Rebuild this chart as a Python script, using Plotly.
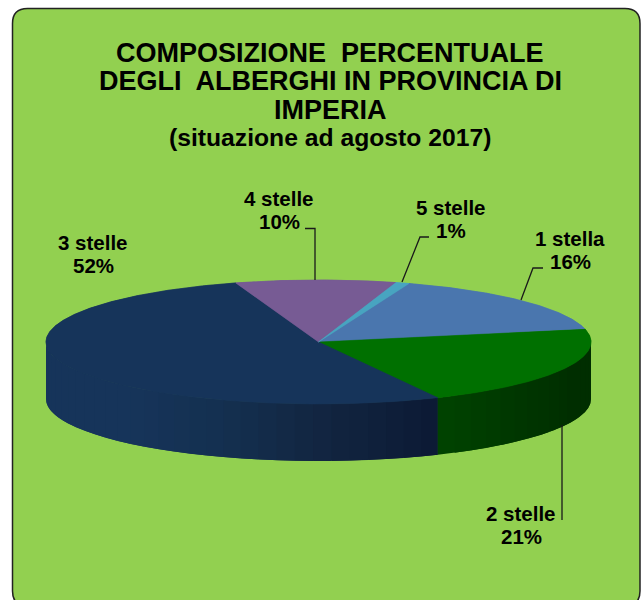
import numpy as np
import plotly.graph_objects as go

categories = ["1 stella", "2 stelle", "3 stelle", "4 stelle", "5 stelle"]
values = [16.2, 21.2, 52.3, 9.5, 0.8]
top_colors = ["#4A76AE", "#007000", "#16345A", "#775B94", "#48A4C0"]

title_lines = ["COMPOSIZIONE  PERCENTUALE", "DEGLI  ALBERGHI IN PROVINCIA DI", "IMPERIA", "(situazione ad agosto 2017)"]
title_y = [53, 81, 110, 137]
title_sizes = [27, 27, 27, 24.7]

label_pos = {"1 stella": (570, 250), "2 stelle": (521, 525), "3 stelle": (93, 253.5),
             "4 stelle": (279, 209.5), "5 stelle": (451, 218.5)}
leaders = [
    ([543, 533, 521], [268, 268, 300]),
    ([562, 562], [520, 425]),
    ([305, 315, 315], [228.5, 228.5, 280]),
    ([429, 420, 402], [237, 237, 282]),
]

CX, CY, RX, RY, DEPTH = 318.5, 342, 272.5, 62, 57
START = 70.6


def ex(t):
    return CX + RX * np.cos(np.radians(t))


def ey(t, d=0):
    return CY - RY * np.sin(np.radians(t)) + d


def mix(c1, c2, f):
    a = [int(c1[i:i + 2], 16) for i in (1, 3, 5)]
    b = [int(c2[i:i + 2], 16) for i in (1, 3, 5)]
    return "rgb(%d,%d,%d)" % tuple(round(p + (q - p) * f) for p, q in zip(a, b))


fig = go.Figure()


def side(t0, t1, stops, n):
    """Wall strips from angle t0 to t1, shaded along the stops; each one overlaps the next."""
    edges = np.linspace(t0, t1, n + 1)
    for i in range(n):
        f = i / max(n - 1, 1) * (len(stops) - 1)
        k = min(int(f), len(stops) - 2)
        col = mix(stops[k], stops[k + 1], f - k)
        ts = np.linspace(edges[i], edges[min(i + 2, n)], 14)
        xs = np.r_[ex(ts), ex(ts[::-1])]
        ys = np.r_[ey(ts), ey(ts[::-1], DEPTH)]
        fig.add_trace(go.Scatter(x=xs, y=ys, mode="lines", fill="toself", fillcolor=col,
                                 line=dict(width=0), hoverinfo="skip", showlegend=False))


def face(name, val, col, a, b):
    ts = np.linspace(a, b, max(int(abs(a - b)) * 2, 6))
    xs = np.r_[CX, ex(ts), CX]
    ys = np.r_[CY, ey(ts), CY]
    fig.add_trace(go.Scatter(x=xs, y=ys, mode="lines", fill="toself", fillcolor=col,
                             line=dict(width=0.5, color=col), name=name,
                             text=f"{name} {round(val)}%", hoverinfo="text", showlegend=False))


# angular boundaries, clockwise, from the values
bounds = START - np.cumsum([0] + [v * 3.6 for v in values])

# the faces are laid under the walls too, so no background shows along the shared edge
for name, val, col, a, b in zip(categories, values, top_colors, bounds[:-1], bounds[1:]):
    face(name, val, col, a, b)

# visible walls (lower half of the ellipse)
side(-180, bounds[2], ["#16345A", "#16345A", "#16345A", "#143050", "#122540", "#0C1A35"], 30)
side(bounds[2], 0, ["#004200", "#003600", "#002E00", "#002E00"], 16)

# top faces
for name, val, col, a, b in zip(categories, values, top_colors, bounds[:-1], bounds[1:]):
    face(name, val, col, a, b)

for lx, ly in leaders:
    fig.add_trace(go.Scatter(x=lx, y=ly, mode="lines", line=dict(color="#1a1a1a", width=1.3),
                             hoverinfo="skip", showlegend=False))

ann = []
for line, y, s in zip(title_lines, title_y, title_sizes):
    ann.append(dict(x=330, y=y, text=f"<b>{line}</b>", showarrow=False,
                    font=dict(family="Liberation Sans", size=s, color="#000"), xanchor="center", yanchor="middle"))
for name, val in zip(categories, values):
    x, y = label_pos[name]
    for txt, dy in ((name, -11.5), (f"{round(val)}%", 11.5)):
        ann.append(dict(x=x, y=y + dy, text=f"<b>{txt}</b>", showarrow=False,
                        font=dict(family="Liberation Sans", size=20.5, color="#000"),
                        xanchor="center", yanchor="middle"))

L, T, R, B, r = 12.5, 8.5, 640, 606, 15
card = (f"M {L + r} {T} L {R - r} {T} Q {R} {T} {R} {T + r} L {R} {B - r} Q {R} {B} {R - r} {B} "
        f"L {L + r} {B} Q {L} {B} {L} {B - r} L {L} {T + r} Q {L} {T} {L + r} {T} Z")

fig.update_layout(
    width=642, height=600, margin=dict(l=0, r=0, t=0, b=0), showlegend=False,
    paper_bgcolor="white", plot_bgcolor="white",
    xaxis=dict(range=[0, 642], visible=False, fixedrange=True),
    yaxis=dict(range=[600, 0], visible=False, fixedrange=True),
    shapes=[dict(type="path", path=card, fillcolor="#92D050", line=dict(color="#222222", width=1.5), layer="below")],
    annotations=ann,
)
fig.write_html("out.html", config={"displayModeBar": False},
               post_script="document.body.style.margin='0';document.body.style.overflow='hidden';")
